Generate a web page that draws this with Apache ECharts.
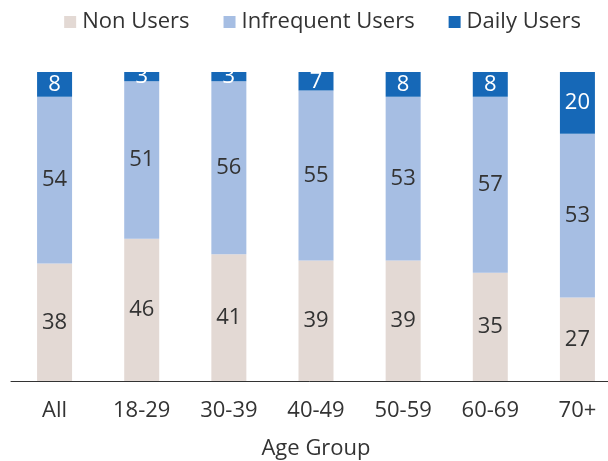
<!DOCTYPE html>
<html>
<head>
<meta charset="utf-8">
<script src="https://cdn.jsdelivr.net/npm/echarts@6/dist/echarts.min.js"></script>
<style>
    html, body { margin: 0; padding: 0; background: #fff; }
    #chart { width: 608px; height: 461px; }
</style>
</head>
<body>
<div id="chart"></div>
<script>
const ageGroups = ['All', '18-29', '30-39', '40-49', '50-59', '60-69', '70+'];
const nonUsers = [38, 46, 41, 39, 39, 35, 27];
const infrequentUsers = [54, 51, 56, 55, 53, 57, 53];
const dailyUsers = [8, 3, 3, 7, 8, 8, 20];

const FONT = 'Open Sans';

function makeSeries(name, data, color, labelColor) {
    return {
        name: name,
        type: 'bar',
        stack: 'total',
        data: data,
        barWidth: 35,
        itemStyle: { color: color },
        label: {
            show: true,
            position: 'inside',
            color: labelColor,
            fontFamily: FONT,
            fontSize: 22
        }
    };
}

function getChartOption() {
    const option = {
        animation: false,
        textStyle: { fontFamily: FONT },
        legend: {
            top: 6,
            right: 22,
            itemWidth: 12,
            itemHeight: 12,
            itemGap: 34,
            icon: 'rect',
            textStyle: { fontSize: 22, color: '#333', fontFamily: FONT, padding: [0, 0, 0, 1] },
            data: ['Non Users', 'Infrequent Users', 'Daily Users']
        },
        grid: {
            left: 11,
            width: 610,
            top: 72,
            bottom: 80,
            outerBoundsMode: 'none'
        },
        xAxis: {
            type: 'category',
            data: ageGroups,
            name: 'Age Group',
            nameLocation: 'middle',
            nameGap: 57,
            nameTextStyle: { fontSize: 22, color: '#333', fontFamily: FONT },
            axisLine: { lineStyle: { color: '#333', width: 1 } },
            axisTick: { show: false },
            axisLabel: { fontSize: 22, color: '#333', margin: 19, fontFamily: FONT }
        },
        yAxis: {
            type: 'value',
            min: 0,
            max: 100,
            show: false
        },
        series: [
            makeSeries('Non Users', nonUsers, '#E3D9D4', '#333'),
            makeSeries('Infrequent Users', infrequentUsers, '#A6BEE3', '#333'),
            makeSeries('Daily Users', dailyUsers, '#1668B7', '#fff')
        ]
    };
    return option;
}

const chart = echarts.init(document.getElementById('chart'));
chart.setOption(getChartOption());
</script>
</body>
</html>
